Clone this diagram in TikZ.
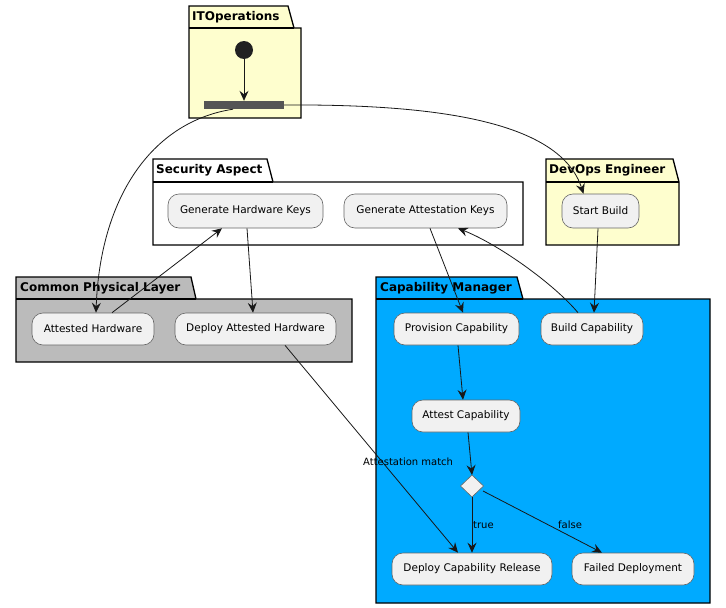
\documentclass[tikz,border=0pt]{standalone}
\usepackage{fontspec}
\setmainfont{DejaVu Sans}
\usetikzlibrary{arrows.meta,shapes.geometric}
\definecolor{pkyellow}{HTML}{FEFECE}
\definecolor{pkgray}{HTML}{BBBBBB}
\definecolor{pkblue}{HTML}{00AAFF}
\definecolor{actfill}{HTML}{F1F1F1}
\definecolor{actdraw}{HTML}{666666}
\definecolor{barfill}{HTML}{555555}
\definecolor{edge}{HTML}{181818}
\tikzset{
  act/.style={draw=actdraw,fill=actfill,line width=0.6pt,rounded corners=11pt,inner sep=0pt,font=\fontsize{10.5}{13}\selectfont},
  pkbody/.style={draw=black,line width=1.3pt},
  pktitle/.style={anchor=west,inner sep=0pt,font=\bfseries\fontsize{12}{14}\selectfont},
  flow/.style={draw=edge,line width=0.8pt,-{Stealth[length=10pt,width=9pt,inset=3.5pt]}},
  elabel/.style={font=\fontsize{10}{12}\selectfont,inner sep=0pt}
}
\begin{document}
\begin{tikzpicture}[x=1pt,y=-1pt]
\useasboundingbox (0,0) rectangle (726,608);
% ITOperations
\path[pkbody,fill=pkyellow] (189,6) -- (288,6) -- (294,28) -- (301,28) -- (301,118) -- (189,118) -- cycle;
\draw[line width=1.3pt] (189,28) -- (294,28);
\node[pktitle] (tIT) at (192,17) {ITOperations};
% Security Aspect
\path[pkbody,fill=white] (153,159) -- (267,159) -- (273,182) -- (523,182) -- (523,245) -- (153,245) -- cycle;
\draw[line width=1.3pt] (153,182) -- (273,182);
\node[pktitle] (tSA) at (156,170) {Security Aspect};
% DevOps Engineer
\path[pkbody,fill=pkyellow] (546,159) -- (673,159) -- (679,182) -- (679,245) -- (546,245) -- cycle;
\draw[line width=1.3pt] (546,182) -- (679,182);
\node[pktitle] (tDE) at (549,170) {DevOps Engineer};
% Common Physical Layer
\path[pkbody,fill=pkgray] (16,277) -- (191,277) -- (196,299) -- (352,299) -- (352,362) -- (16,362) -- cycle;
\draw[line width=1.3pt] (16,299) -- (196,299);
\node[pktitle] (tCP) at (20,288) {Common Physical Layer};
% Capability Manager
\path[pkbody,fill=pkblue] (376,277) -- (517,277) -- (523,299) -- (710,299) -- (710,603) -- (376,603) -- cycle;
\draw[line width=1.3pt] (376,299) -- (523,299);
\node[pktitle] (tCM) at (380,288) {Capability Manager};
% start and bar
\node[circle,fill=black!87,minimum size=18pt,inner sep=0pt] (start) at (244,50) {};
\node[rectangle,fill=barfill,minimum width=80pt,minimum height=8pt,inner sep=0pt] (bar) at (244,105) {};
% activities
\node[act,minimum width=155pt,minimum height=34pt] (GHK) at (245.5,211) {Generate Hardware Keys};
\node[act,minimum width=163pt,minimum height=34pt] (GAK) at (425.5,211) {Generate Attestation Keys};
\node[act,minimum width=77pt,minimum height=34pt] (SB) at (600.5,211) {Start Build};
\node[act,minimum width=122pt,minimum height=32pt] (AH) at (93,329) {Attested Hardware};
\node[act,minimum width=161pt,minimum height=32pt] (DAH) at (255.5,329) {Deploy Attested Hardware};
\node[act,minimum width=125pt,minimum height=32pt] (PC) at (456.5,329) {Provision Capability};
\node[act,minimum width=102pt,minimum height=32pt] (BC) at (592,329) {Build Capability};
\node[act,minimum width=108pt,minimum height=32pt] (AC) at (466,416) {Attest Capability};
\node[act,minimum width=160pt,minimum height=32pt] (DCR) at (472,569) {Deploy Capability Release};
\node[act,minimum width=122pt,minimum height=32pt] (FD) at (633,569) {Failed Deployment};
\path[draw=actdraw,fill=actfill,line width=0.6pt] (460.5,486) -- (472,475) -- (483.5,486) -- (472,497) -- cycle;
\coordinate (D) at (472,486);
\coordinate (Dn) at (472,475);
\coordinate (Ds) at (472,497);
\coordinate (De) at (483,491);
% edges
\draw[flow] (start) -- (bar.north);
\draw[flow] ([xshift=-11pt]bar.south) .. controls (150,122) and (100,200) .. ([xshift=3pt]AH.north);
\draw[flow] (bar.east) .. controls (440,104) and (560,122) .. ([xshift=-17pt]SB.north);
\draw[flow] ([xshift=19pt]AH.north) -- ([xshift=-23.5pt]GHK.south);
\draw[flow] ([xshift=1.5pt]GHK.south) -- ([xshift=-2.5pt]DAH.north);
\draw[flow] ([xshift=4.5pt]GAK.south) -- ([xshift=6.5pt]PC.north);
\draw[flow] ([xshift=-14pt]BC.north) .. controls (555,285) and (500,245) .. ([xshift=32.5pt]GAK.south);
\draw[flow] ([xshift=-2.5pt]SB.south) -- ([xshift=2pt]BC.north);
\draw[flow] ([xshift=1.5pt]PC.south) -- ([xshift=-3pt]AC.north);
\draw[flow] ([xshift=2pt]AC.south) -- (Dn);
\draw[flow] (Ds) -- (DCR.north);
\draw[flow] (De) -- ([xshift=-31pt]FD.north);
\draw[flow] ([xshift=29.5pt]DAH.south) -- ([xshift=-14pt]DCR.north);
% labels
\node[elabel,anchor=west] (ltrue) at (473,525) {true};
\node[elabel,anchor=west] (lfalse) at (558,525) {false};
\node[elabel,anchor=west] (lmatch) at (363,462) {Attestation match};
\end{tikzpicture}
\end{document}
